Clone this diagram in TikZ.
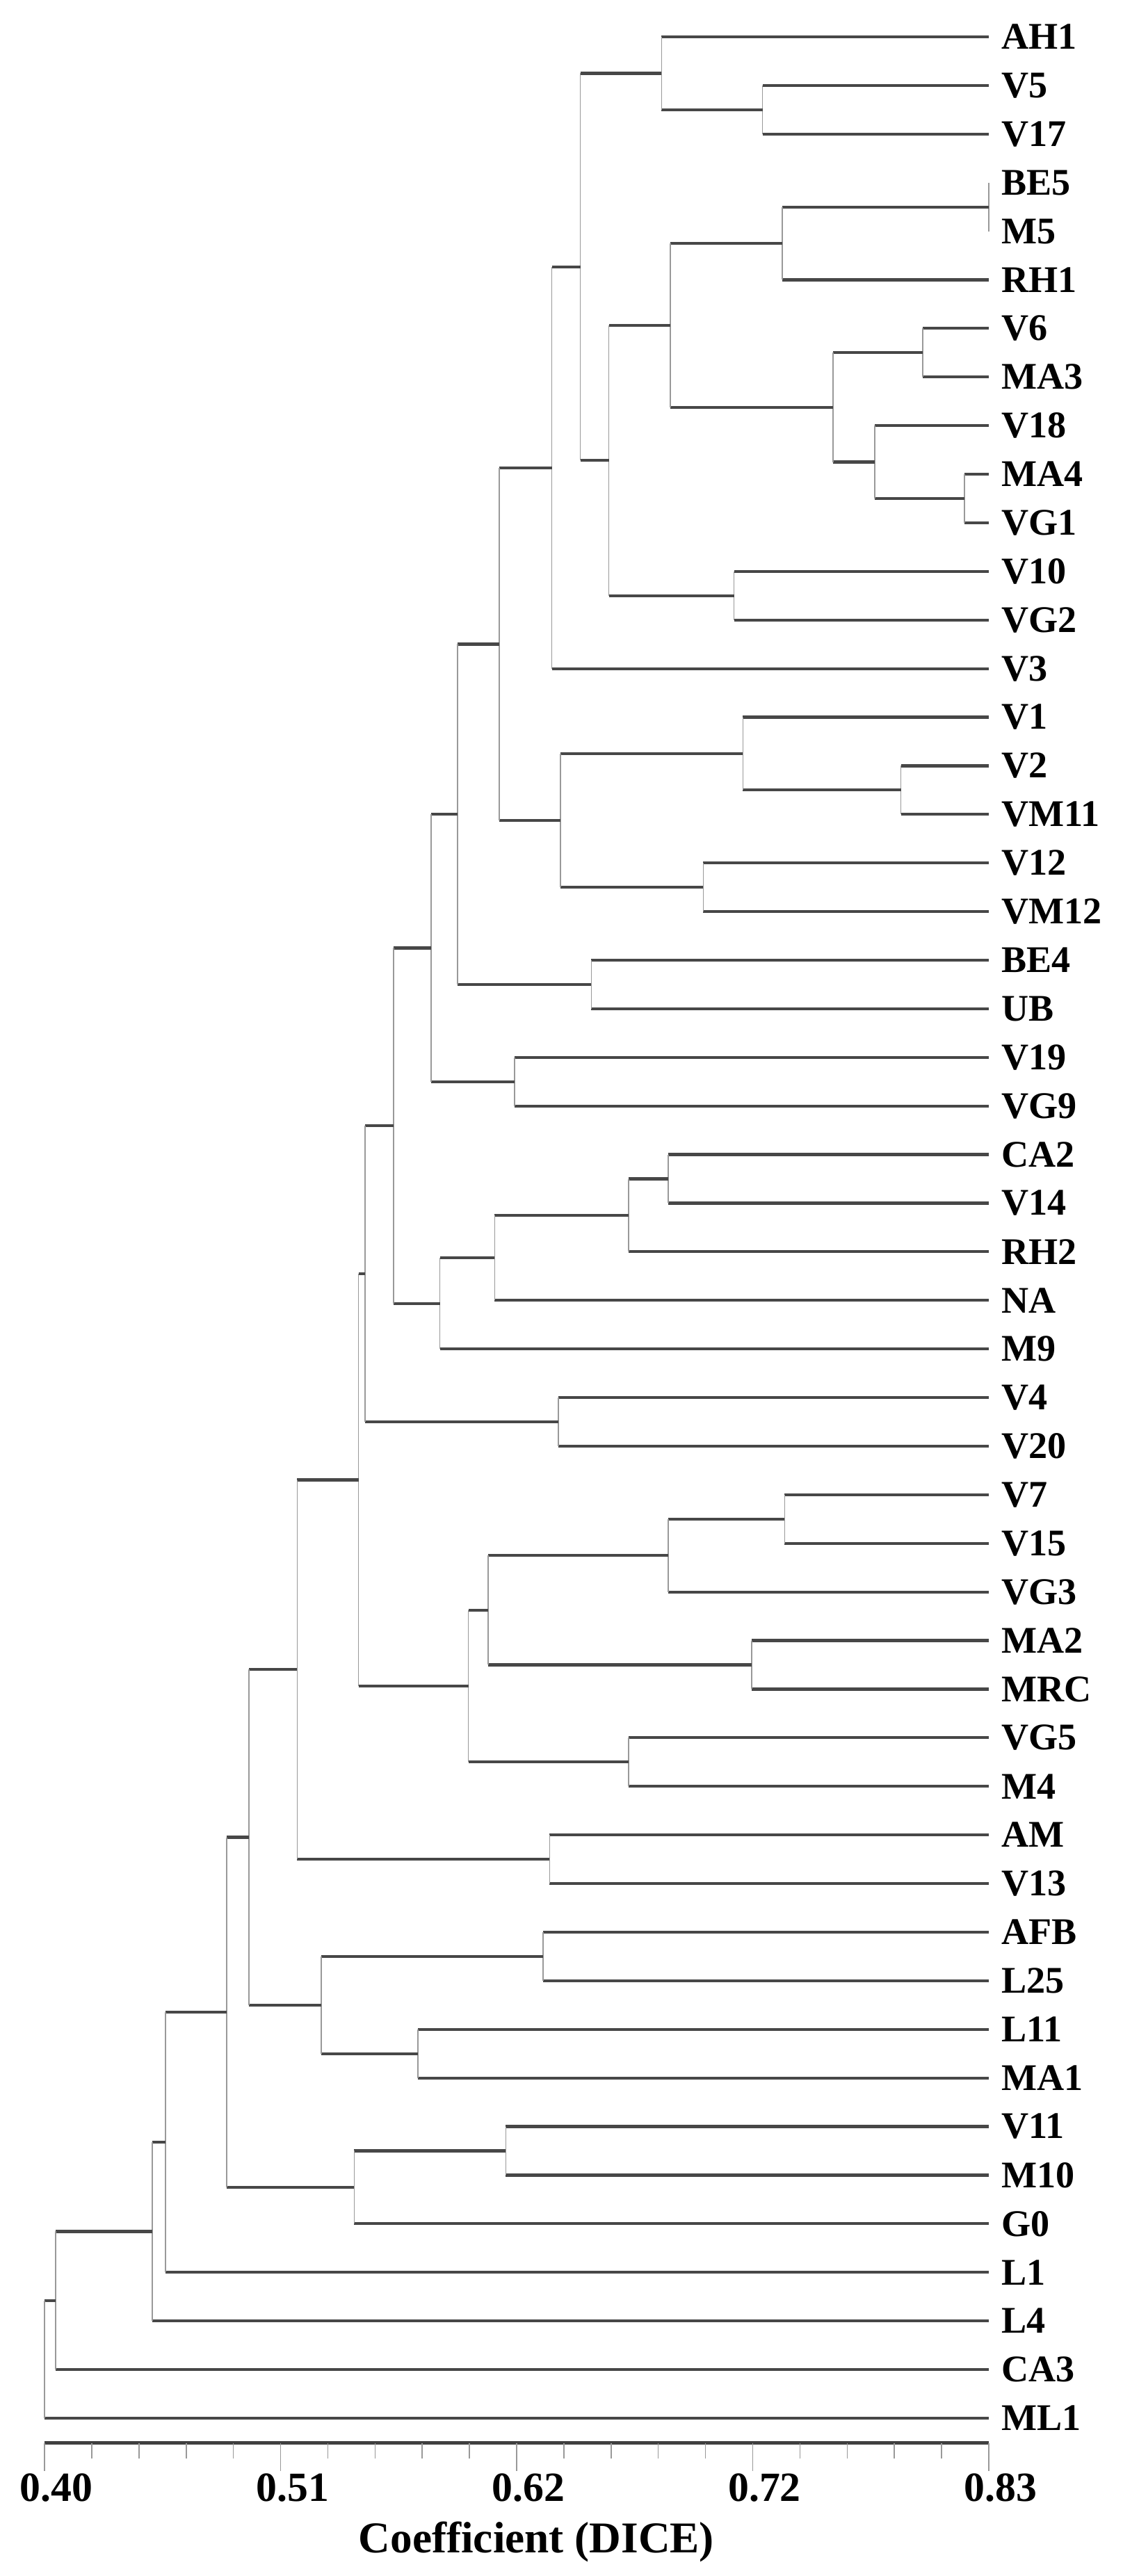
\documentclass[tikz,border=0pt]{standalone}
\usepackage{fontspec}
\setmainfont{Liberation Serif}
\newcommand{\elbow}[3]{%
  \draw[hline] (#1 |- #2) -- (#2);
  \draw[hline] (#1 |- #3) -- (#3);
  \draw[vline] (#1 |- #2) -- (#1 |- #3);
}
\begin{document}
\begin{tikzpicture}[x=31.58cm, y=-0.699cm,
    leaf/.style={anchor=west, inner xsep=0.18cm, inner ysep=0pt, font=\fontsize{15.4pt}{18pt}\selectfont\bfseries},
    hline/.style={line width=0.042cm, black!72},
    vline/.style={line width=0.015cm, black!40},
    axisline/.style={line width=0.055cm, black!75},
    ticklabel/.style={font=\fontsize{17pt}{20pt}\selectfont\bfseries, xshift=0.17cm},
    axistitle/.style={font=\fontsize{18pt}{21pt}\selectfont\bfseries}]
    \useasboundingbox (0.3797,-0.758) rectangle (0.8911,52.25);

    \node[leaf] (ah1) at (0.83, 0) {AH1};
    \node[leaf] (v5) at (0.83, 1) {V5};
    \node[leaf] (v17) at (0.83, 2) {V17};
    \node[leaf] (be5) at (0.83, 3) {BE5};
    \node[leaf] (m5) at (0.83, 4) {M5};
    \node[leaf] (rh1) at (0.83, 5) {RH1};
    \node[leaf] (v6) at (0.83, 6) {V6};
    \node[leaf] (ma3) at (0.83, 7) {MA3};
    \node[leaf] (v18) at (0.83, 8) {V18};
    \node[leaf] (ma4) at (0.83, 9) {MA4};
    \node[leaf] (vg1) at (0.83, 10) {VG1};
    \node[leaf] (v10) at (0.83, 11) {V10};
    \node[leaf] (vg2) at (0.83, 12) {VG2};
    \node[leaf] (v3) at (0.83, 13) {V3};
    \node[leaf] (v1) at (0.83, 14) {V1};
    \node[leaf] (v2) at (0.83, 15) {V2};
    \node[leaf] (vm11) at (0.83, 16) {VM11};
    \node[leaf] (v12) at (0.83, 17) {V12};
    \node[leaf] (vm12) at (0.83, 18) {VM12};
    \node[leaf] (be4) at (0.83, 19) {BE4};
    \node[leaf] (ub) at (0.83, 20) {UB};
    \node[leaf] (v19) at (0.83, 21) {V19};
    \node[leaf] (vg9) at (0.83, 22) {VG9};
    \node[leaf] (ca2) at (0.83, 23) {CA2};
    \node[leaf] (v14) at (0.83, 24) {V14};
    \node[leaf] (rh2) at (0.83, 25) {RH2};
    \node[leaf] (na) at (0.83, 26) {NA};
    \node[leaf] (m9) at (0.83, 27) {M9};
    \node[leaf] (v4) at (0.83, 28) {V4};
    \node[leaf] (v20) at (0.83, 29) {V20};
    \node[leaf] (v7) at (0.83, 30) {V7};
    \node[leaf] (v15) at (0.83, 31) {V15};
    \node[leaf] (vg3) at (0.83, 32) {VG3};
    \node[leaf] (ma2) at (0.83, 33) {MA2};
    \node[leaf] (mrc) at (0.83, 34) {MRC};
    \node[leaf] (vg5) at (0.83, 35) {VG5};
    \node[leaf] (m4) at (0.83, 36) {M4};
    \node[leaf] (am) at (0.83, 37) {AM};
    \node[leaf] (v13) at (0.83, 38) {V13};
    \node[leaf] (afb) at (0.83, 39) {AFB};
    \node[leaf] (l25) at (0.83, 40) {L25};
    \node[leaf] (l11) at (0.83, 41) {L11};
    \node[leaf] (ma1) at (0.83, 42) {MA1};
    \node[leaf] (v11) at (0.83, 43) {V11};
    \node[leaf] (m10) at (0.83, 44) {M10};
    \node[leaf] (g0) at (0.83, 45) {G0};
    \node[leaf] (l1) at (0.83, 46) {L1};
    \node[leaf] (l4) at (0.83, 47) {L4};
    \node[leaf] (ca3) at (0.83, 48) {CA3};
    \node[leaf] (ml1) at (0.83, 49) {ML1};

    \coordinate (n-v5) at (0.727, 1.5);
    \coordinate (n-ah) at (0.681, 0.75);
    \coordinate (n-be5) at (0.83, 3.5);
    \coordinate (n-be) at (0.736, 4.25);
    \coordinate (n-v6) at (0.800, 6.5);
    \coordinate (n-ma4) at (0.819, 9.5);
    \coordinate (n-v18) at (0.778, 8.75);
    \coordinate (n-v6g) at (0.759, 7.625);
    \coordinate (n-16) at (0.685, 5.9375);
    \coordinate (n-v10) at (0.714, 11.5);
    \coordinate (n-15) at (0.657, 8.71875);
    \coordinate (n-14) at (0.644, 4.734);
    \coordinate (n-13) at (0.631, 8.867);
    \coordinate (n-v2) at (0.790, 15.5);
    \coordinate (n-v1) at (0.718, 14.75);
    \coordinate (n-v12) at (0.700, 17.5);
    \coordinate (n-v1g) at (0.635, 16.125);
    \coordinate (n-12) at (0.607, 12.496);
    \coordinate (n-be4) at (0.649, 19.5);
    \coordinate (n-11) at (0.588, 15.998);
    \coordinate (n-v19) at (0.614, 21.5);
    \coordinate (n-10) at (0.576, 18.749);
    \coordinate (n-ca2) at (0.684, 23.5);
    \coordinate (n-rh2) at (0.666, 24.25);
    \coordinate (n-na) at (0.605, 25.125);
    \coordinate (n-m9) at (0.580, 26.0625);
    \coordinate (n-9) at (0.559, 22.406);
    \coordinate (n-v4) at (0.634, 28.5);
    \coordinate (n-8) at (0.546, 25.453);
    \coordinate (n-v7) at (0.737, 30.5);
    \coordinate (n-vg3) at (0.684, 31.25);
    \coordinate (n-ma2) at (0.722, 33.5);
    \coordinate (n-mrc) at (0.602, 32.375);
    \coordinate (n-vg5) at (0.666, 35.5);
    \coordinate (n-m4) at (0.593, 33.9375);
    \coordinate (n-7) at (0.543, 29.695);
    \coordinate (n-am) at (0.630, 37.5);
    \coordinate (n-6) at (0.515, 33.598);
    \coordinate (n-afb) at (0.627, 39.5);
    \coordinate (n-l11) at (0.570, 41.5);
    \coordinate (n-a) at (0.526, 40.5);
    \coordinate (n-5) at (0.493, 37.049);
    \coordinate (n-v11) at (0.610, 43.5);
    \coordinate (n-g0) at (0.541, 44.25);
    \coordinate (n-4) at (0.483, 40.65);
    \coordinate (n-3) at (0.455, 43.32);
    \coordinate (n-2) at (0.449, 45.16);
    \coordinate (n-1) at (0.405, 46.58);
    \coordinate (n-0) at (0.400, 47.79);

    \elbow{n-v5}{v5.west}{v17.west}
    \elbow{n-ah}{ah1.west}{n-v5}
    \elbow{n-be5}{be5.west}{m5.west}
    \elbow{n-be}{n-be5}{rh1.west}
    \elbow{n-v6}{v6.west}{ma3.west}
    \elbow{n-ma4}{ma4.west}{vg1.west}
    \elbow{n-v18}{v18.west}{n-ma4}
    \elbow{n-v6g}{n-v6}{n-v18}
    \elbow{n-16}{n-be}{n-v6g}
    \elbow{n-v10}{v10.west}{vg2.west}
    \elbow{n-15}{n-16}{n-v10}
    \elbow{n-14}{n-ah}{n-15}
    \elbow{n-13}{n-14}{v3.west}
    \elbow{n-v2}{v2.west}{vm11.west}
    \elbow{n-v1}{v1.west}{n-v2}
    \elbow{n-v12}{v12.west}{vm12.west}
    \elbow{n-v1g}{n-v1}{n-v12}
    \elbow{n-12}{n-13}{n-v1g}
    \elbow{n-be4}{be4.west}{ub.west}
    \elbow{n-11}{n-12}{n-be4}
    \elbow{n-v19}{v19.west}{vg9.west}
    \elbow{n-10}{n-11}{n-v19}
    \elbow{n-ca2}{ca2.west}{v14.west}
    \elbow{n-rh2}{n-ca2}{rh2.west}
    \elbow{n-na}{n-rh2}{na.west}
    \elbow{n-m9}{n-na}{m9.west}
    \elbow{n-9}{n-10}{n-m9}
    \elbow{n-v4}{v4.west}{v20.west}
    \elbow{n-8}{n-9}{n-v4}
    \elbow{n-v7}{v7.west}{v15.west}
    \elbow{n-vg3}{n-v7}{vg3.west}
    \elbow{n-ma2}{ma2.west}{mrc.west}
    \elbow{n-mrc}{n-vg3}{n-ma2}
    \elbow{n-vg5}{vg5.west}{m4.west}
    \elbow{n-m4}{n-mrc}{n-vg5}
    \elbow{n-7}{n-8}{n-m4}
    \elbow{n-am}{am.west}{v13.west}
    \elbow{n-6}{n-7}{n-am}
    \elbow{n-afb}{afb.west}{l25.west}
    \elbow{n-l11}{l11.west}{ma1.west}
    \elbow{n-a}{n-afb}{n-l11}
    \elbow{n-5}{n-6}{n-a}
    \elbow{n-v11}{v11.west}{m10.west}
    \elbow{n-g0}{n-v11}{g0.west}
    \elbow{n-4}{n-5}{n-g0}
    \elbow{n-3}{n-4}{l1.west}
    \elbow{n-2}{n-3}{l4.west}
    \elbow{n-1}{n-2}{ca3.west}
    \elbow{n-0}{n-1}{ml1.west}

    \coordinate (ax0) at (0.40, 49.51);
    \coordinate (ax1) at (0.83, 49.51);
    \draw[axisline] (ax0) -- (ax1);
    \foreach \k in {0,...,20}
        \draw[vline] (0.40+0.0215*\k, 49.51) -- ++(0, 0.315);
    \foreach \v/\t in {0.40/0.40, 0.5075/0.51, 0.615/0.62, 0.7225/0.72, 0.83/0.83} {
        \draw[vline] (\v, 49.51) -- (\v, 50.09);
        \node[ticklabel] (tick-\t) at (\v, 50.44) {\t};
    }
    \node[axistitle] (title) at (0.624, 51.55) {Coefficient (DICE)};
\end{tikzpicture}
\end{document}
